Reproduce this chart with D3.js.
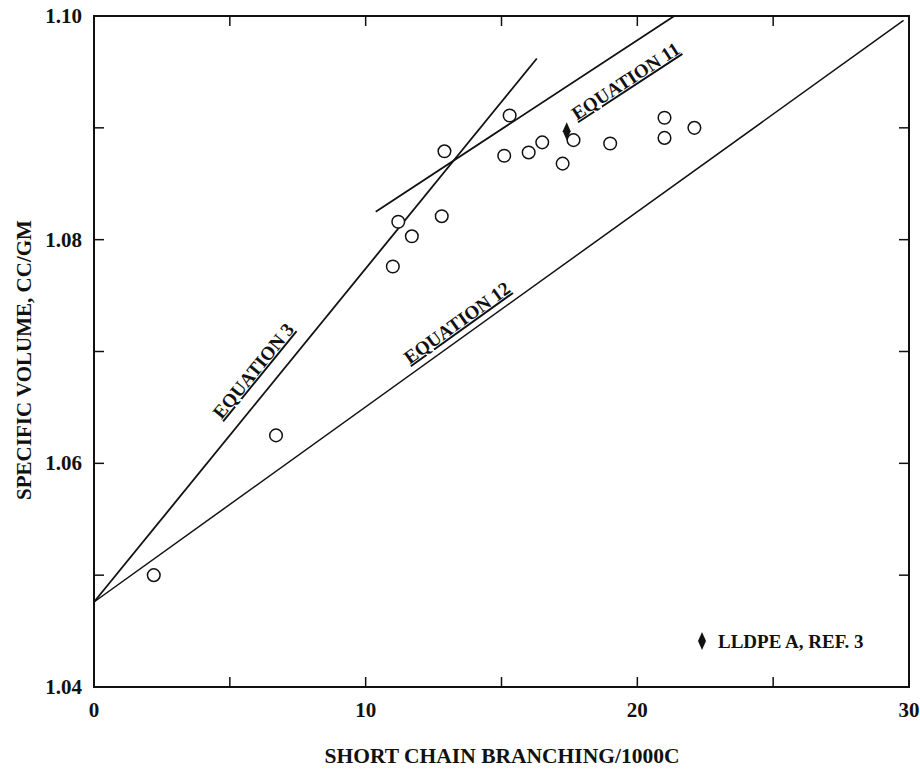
<!DOCTYPE html>
<html>
<head>
<meta charset="utf-8">
<title>Specific volume vs short chain branching</title>
<script src="https://d3js.org/d3.v7.min.js"></script>
<style>
  body { margin: 0; background: #fff; }
  svg text { font-family: "Liberation Serif", "Times New Roman", serif; font-weight: bold; fill: #111; }
  .frame { fill: none; stroke: #111; stroke-width: 2; }
  .tick { stroke: #111; stroke-width: 1.5; }
  .eqline { fill: none; stroke: #111; }
  .pt { fill: #fff; stroke: #111; stroke-width: 1.5; }
</style>
</head>
<body>
<script>
// measured samples: branches per 1000C, specific volume cc/g
var branching = [2.2, 6.7, 11.0, 11.2, 11.7, 12.8, 12.9, 15.3, 15.1, 16.0, 16.5, 17.25, 17.65, 19.0, 21.0, 21.0, 22.1];
var specVol   = [1.0500, 1.0625, 1.0776, 1.0816, 1.0803, 1.0821, 1.0879, 1.0911, 1.0875, 1.0878, 1.0887, 1.0868, 1.0889, 1.0886, 1.0891, 1.0909, 1.0900];

// LLDPE A, ref. 3
var refPoint = [17.4, 1.0897];

// equation lines (endpoints)
var eq3  = [[0, 1.0476], [16.3, 1.0962]];
var eq11 = [[10.37, 1.0825], [21.36, 1.1000]];
var eq12 = [[0, 1.0476], [29.8, 1.0996]];

var xTicks = [0, 5, 10, 15, 20, 25, 30];
var xLabels = [0, 10, 20, 30];
var yTicks = [1.04, 1.05, 1.06, 1.07, 1.08, 1.09, 1.10];
var yLabels = [1.04, 1.06, 1.08, 1.10];

var W = 920, H = 770;
var svg = d3.select("body").append("svg").attr("width", W).attr("height", H);

var x = d3.scaleLinear().domain([0, 30]).range([94, 909]);
var y = d3.scaleLinear().domain([1.04, 1.10]).range([687, 16]);

// frame
svg.append("rect").attr("class", "frame")
  .attr("x", x(0)).attr("y", y(1.10))
  .attr("width", x(30) - x(0)).attr("height", y(1.04) - y(1.10));

// inward ticks on all four sides
var tl = 10;
var inner = xTicks.filter(function(d) { return d > 0 && d < 30; });
svg.selectAll("line.bt").data(inner).enter().append("line").attr("class", "tick")
  .attr("x1", x).attr("x2", x).attr("y1", y(1.04)).attr("y2", y(1.04) - tl);
svg.selectAll("line.tt").data(inner).enter().append("line").attr("class", "tick")
  .attr("x1", x).attr("x2", x).attr("y1", y(1.10)).attr("y2", y(1.10) + tl);
var innerY = yTicks.filter(function(d) { return d > 1.04 && d < 1.10; });
svg.selectAll("line.lt").data(innerY).enter().append("line").attr("class", "tick")
  .attr("y1", y).attr("y2", y).attr("x1", x(0)).attr("x2", x(0) + tl);
svg.selectAll("line.rt").data(innerY).enter().append("line").attr("class", "tick")
  .attr("y1", y).attr("y2", y).attr("x1", x(30)).attr("x2", x(30) - tl);

// tick labels
svg.selectAll("text.xl").data(xLabels).enter().append("text")
  .attr("x", x).attr("y", y(1.04) + 30)
  .attr("text-anchor", "middle").style("font-size", "21px")
  .text(function(d) { return d; });
svg.selectAll("text.yl").data(yLabels).enter().append("text")
  .attr("x", x(0) - 12).attr("y", function(d) { return y(d) + 7; })
  .attr("text-anchor", "end").style("font-size", "21px")
  .text(function(d) { return d.toFixed(2); });

// axis titles
svg.append("text").attr("x", 502).attr("y", 763)
  .attr("text-anchor", "middle").style("font-size", "21.5px")
  .text("SHORT CHAIN BRANCHING/1000C");
svg.append("text")
  .attr("transform", "translate(31,360) rotate(-90)")
  .attr("text-anchor", "middle").style("font-size", "21px")
  .text("SPECIFIC VOLUME, CC/GM");

// equation lines
var line = d3.line().x(function(d) { return x(d[0]); }).y(function(d) { return y(d[1]); });
svg.append("path").attr("class", "eqline").attr("d", line(eq3)).style("stroke-width", 1.8);
svg.append("path").attr("class", "eqline").attr("d", line(eq11)).style("stroke-width", 1.8);
svg.append("path").attr("class", "eqline").attr("d", line(eq12)).style("stroke-width", 1.5);

// rotated, underlined line labels
function angleOf(seg) {
  return Math.atan2(y(seg[1][1]) - y(seg[0][1]), x(seg[1][0]) - x(seg[0][0])) * 180 / Math.PI;
}
var eqLabels = [
  { text: "EQUATION 3",  at: [6.05, 1.0679], seg: eq3 },
  { text: "EQUATION 12", at: [13.5, 1.0721], seg: eq12 },
  { text: "EQUATION 11", at: [19.7, 1.0937], seg: eq11 }
];
svg.selectAll("text.eq").data(eqLabels).enter().append("text")
  .attr("text-anchor", "middle")
  .style("font-size", "19px")
  .style("text-decoration", "underline")
  .attr("transform", function(d) {
    return "translate(" + x(d.at[0]) + "," + y(d.at[1]) + ") rotate(" + angleOf(d.seg) + ")";
  })
  .text(function(d) { return d.text; });

// data points
svg.selectAll("circle.pt").data(branching).enter().append("circle")
  .attr("class", "pt")
  .attr("cx", function(d) { return x(d); })
  .attr("cy", function(d, i) { return y(specVol[i]); })
  .attr("r", 6.3);

// reference diamond
var diamond = "M0,-9 L4,0 L0,9 L-4,0 Z";
svg.append("path").attr("d", diamond).attr("fill", "#111")
  .attr("transform", "translate(" + x(refPoint[0]) + "," + y(refPoint[1]) + ")");

// legend
svg.append("path").attr("d", diamond).attr("fill", "#111")
  .attr("transform", "translate(702,641)");
svg.append("text").attr("x", 718).attr("y", 648).style("font-size", "19px")
  .text("LLDPE A, REF. 3");
</script>
</body>
</html>
